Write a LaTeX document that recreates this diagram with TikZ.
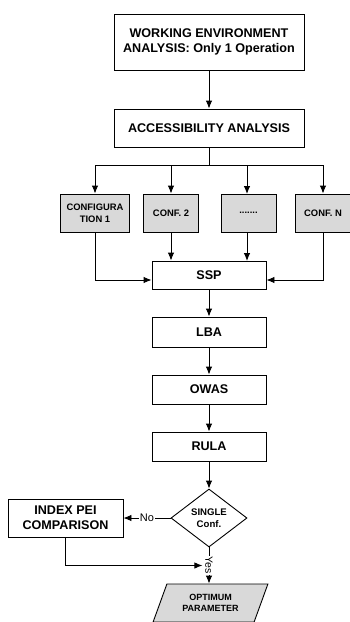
\documentclass[tikz,border=0pt]{standalone}
\usepackage{fontspec}
\setmainfont{Liberation Sans}
\usetikzlibrary{arrows.meta,shapes.geometric}
\tikzset{>={Latex[length=8pt,width=6.5pt]}}
\tikzset{box/.style={draw, line width=0.9pt, align=center, inner sep=1pt,
    font=\fontsize{12.6}{15}\selectfont\bfseries}}
\tikzset{confbox/.style={box, fill=gray!30, minimum height=38,
    font=\fontsize{9.4}{12}\selectfont\bfseries}}
\tikzset{link/.style={line width=0.9pt}}

\begin{document}
\begin{tikzpicture}[x=1pt, y=-1pt]

\def \wbig {190}
\def \wmid {114}
\def \wconf {55}

\useasboundingbox (0,0) rectangle (349,622);

  \node[box, minimum width=\wbig, minimum height=56] (work) at (209,42)
    {WORKING ENVIRONMENT\\ANALYSIS: Only 1 Operation};
  \node[box, minimum width=\wbig, minimum height=38] (acc) at (209,128)
    {ACCESSIBILITY ANALYSIS};

  \node[confbox, minimum width=69] (conf1) at (95,213) {CONFIGURA\\TION 1};
  \node[confbox, minimum width=\wconf] (conf2) at (171,213) {CONF. 2};
  \node[confbox, minimum width=\wconf] (confdots) at (248.5,213) {.......};
  \node[confbox, minimum width=\wconf] (confN) at (323,213) {CONF. N};

  \node[box, minimum width=\wmid, minimum height=28] (ssp) at (209,275) {SSP};
  \node[box, minimum width=\wmid, minimum height=30] (lba) at (209,332) {LBA};
  \node[box, minimum width=\wmid, minimum height=29] (owas) at (209,389.5) {OWAS};
  \node[box, minimum width=\wmid, minimum height=29] (rula) at (209,446.5) {RULA};

  \node[box, diamond, aspect=1.31, minimum width=76, minimum height=58, inner sep=0pt,
    font=\fontsize{9.6}{11.5}\selectfont\bfseries] (single) at (209,518) {SINGLE\\Conf.};
  \node[box, minimum width=115, minimum height=38] (pei) at (65.5,518)
    {INDEX PEI\\COMPARISON};

  \node[box, fill=gray!30, trapezium, trapezium left angle=65, trapezium right angle=115,
    trapezium stretches=true, minimum width=115, minimum height=38,
    font=\fontsize{9}{11.5}\selectfont\bfseries] (opt) at (210.5,603)
    {OPTIMUM\\PARAMETER};

  \coordinate (split) at (209,165);

  \draw[link, ->] (work) -- (acc);
  \draw[link] (acc) -- (split);
  \draw[link] (conf1.north |- split) -- (confN.north |- split);
  \foreach \c in {conf1, conf2, confN}
    \draw[link, ->] (\c.north |- split) -- (\c.north);
  \draw[link, ->] (247,165) -- (247,194);

  \draw[link, ->] (conf2.south) -- (conf2.south |- ssp.north);
  \draw[link, ->] (247,232) -- (247,261);
  \draw[link, ->] (conf1.south) |- ([yshift=-5pt]ssp.west);
  \draw[link, ->] (confN.south) |- ([yshift=-5pt]ssp.east);

  \draw[link, ->] (ssp) -- (lba);
  \draw[link, ->] (lba) -- (owas);
  \draw[link, ->] (owas) -- (rula);
  \draw[link, ->] (rula) -- (single);

  \draw[link, ->] (single.west) -- node[fill=white, inner sep=1pt,
    font=\fontsize{11}{13}\selectfont] (no) {No} (pei.east);
  \draw[link, ->] (single.south) -- node[fill=white, inner sep=0.5pt, rotate=-90,
    font=\fontsize{10.5}{13}\selectfont] (yes) {Yes} (single.south |- opt.north);
  \draw[link, ->] (pei.south) |- ([xshift=-2pt]yes.south);

\end{tikzpicture}
\end{document}
